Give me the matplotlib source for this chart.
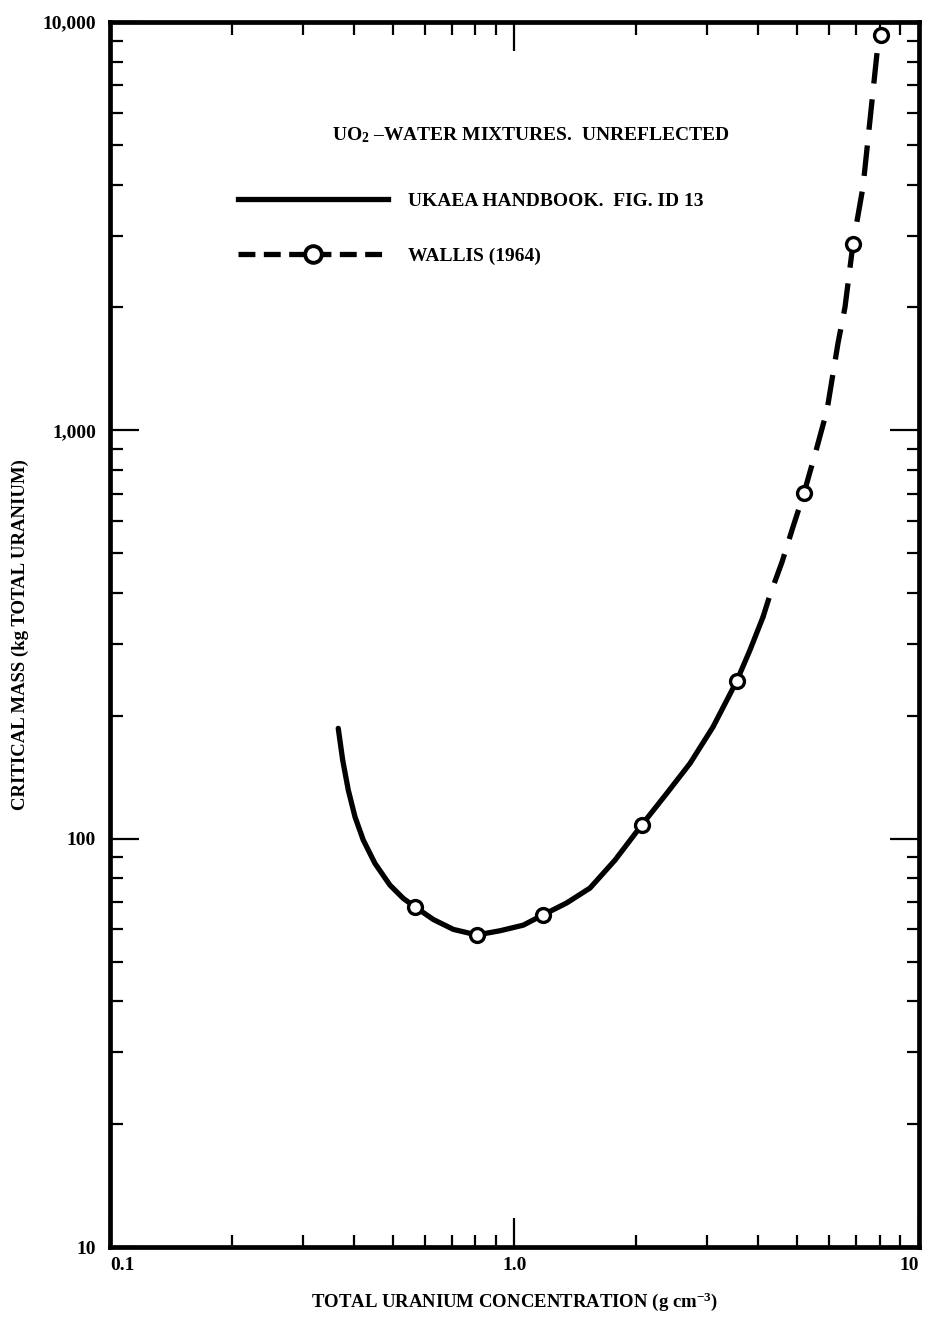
import numpy as np
import matplotlib as mpl
import matplotlib.pyplot as plt
from matplotlib.lines import Line2D
from matplotlib.ticker import FixedLocator, FixedFormatter, LogLocator, NullFormatter

mpl.rcParams['font.family'] = ['Liberation Serif', 'DejaVu Serif']
mpl.rcParams['font.weight'] = 'bold'
mpl.rcParams['axes.labelweight'] = 'bold'
mpl.rcParams['mathtext.fontset'] = 'custom'
mpl.rcParams['mathtext.rm'] = 'Liberation Serif:bold'
mpl.rcParams['mathtext.it'] = 'Liberation Serif:bold'
mpl.rcParams['mathtext.bf'] = 'Liberation Serif:bold'

# UKAEA handbook curve (solid)
ukaea_conc = [0.3667, 0.3761, 0.3883, 0.4034, 0.4229, 0.4519, 0.4922, 0.5311,
              0.5675, 0.630, 0.7062, 0.8065, 0.921, 1.051, 1.174, 1.346, 1.537,
              1.772, 2.063, 2.379, 2.716, 3.095, 3.543, 3.821, 4.115]
ukaea_mass = [186.3, 155.8, 131.5, 113.1, 99.2, 87.0, 76.96, 71.4,
              68.1, 63.4, 59.96, 58.1, 59.5, 61.4, 65.0, 69.6, 75.7,
              88.6, 108.0, 129.1, 152.9, 187.7, 243.2, 289.7, 349]

# Wallis (1964) curve, dashed continuation
wallis_conc = [4.115, 4.281, 4.585, 4.88, 5.196, 5.596, 5.924, 6.307, 6.563,
               6.867, 7.27, 7.566, 7.874, 8.05]
wallis_mass = [349, 395, 475.8, 579.8, 702, 910, 1121, 1636, 2004,
               2859, 3944, 5754, 8400, 9293]

# Wallis (1964) data points
pts_conc = [0.5675, 0.8065, 1.174, 2.063, 3.543, 5.196, 6.867, 8.05]
pts_mass = [68.1, 58.1, 65.0, 108.0, 243.2, 702, 2859, 9293]

x_ticks = [0.1, 1.0, 10]
x_labels = ['0.1', '1.0', '10']
y_ticks = [10, 100, 1000, 10000]
y_labels = ['10', '100', '1,000', '10,000']

fig = plt.figure(figsize=(9.28, 13.29), dpi=100)
ax = fig.add_axes([0.1185, 0.0617, 0.8718, 0.9217])
ax.set_xscale('log')
ax.set_yscale('log')
ax.set_xlim(0.1, 10)
ax.set_ylim(10, 10000)

lw = 3.8
ax.plot(ukaea_conc, ukaea_mass, color='black', linewidth=lw,
        solid_capstyle='round', solid_joinstyle='round')
ax.plot(wallis_conc, wallis_mass, color='black', linewidth=lw,
        linestyle=(2, (5.8, 3.0)), dash_joinstyle='round')
ax.plot(pts_conc, pts_mass, linestyle='none', marker='o', markersize=10,
        markerfacecolor='white', markeredgecolor='black', markeredgewidth=2.4,
        clip_on=False, zorder=5)

for s in ax.spines.values():
    s.set_linewidth(3.4)

ax.xaxis.set_major_locator(FixedLocator(x_ticks))
ax.xaxis.set_major_formatter(FixedFormatter(x_labels))
ax.yaxis.set_major_locator(FixedLocator(y_ticks))
ax.yaxis.set_major_formatter(FixedFormatter(y_labels))
ax.xaxis.set_minor_locator(LogLocator(base=10, subs=np.arange(2, 10)))
ax.yaxis.set_minor_locator(LogLocator(base=10, subs=np.arange(2, 10)))
ax.xaxis.set_minor_formatter(NullFormatter())
ax.yaxis.set_minor_formatter(NullFormatter())

ax.tick_params(which='both', direction='in', top=True, right=True, width=1.6)
ax.tick_params(which='major', length=21, labelsize=14, pad=7)
ax.tick_params(which='minor', length=9)
ax.tick_params(axis='y', which='major', pad=10)

# end labels sit inside the axis span, as in the original
xt = ax.xaxis.get_major_ticks()
xt[0].label1.set_horizontalalignment('left')
xt[-1].label1.set_horizontalalignment('right')

ax.set_xlabel('TOTAL URANIUM CONCENTRATION (g cm$^{-3}$)', fontsize=13.5, labelpad=12)
ax.set_ylabel('CRITICAL MASS (kg TOTAL URANIUM)', fontsize=13.5, labelpad=10)

ax.text(0.52, 0.908, 'UO$_2$ \u2013WATER MIXTURES.  UNREFLECTED', transform=ax.transAxes,
        ha='center', va='center', fontsize=14)

handles = [
    Line2D([], [], color='black', linewidth=lw),
    Line2D([], [], color='black', linewidth=lw, linestyle=(0, (3.2, 1.6)),
           marker='o', markersize=12, markerfacecolor='white',
           markeredgecolor='black', markeredgewidth=2.8),
]
ax.legend(handles, ['UKAEA HANDBOOK.  FIG. ID 13', 'WALLIS (1964)'],
          loc='upper left', bbox_to_anchor=(0.158, 0.861), frameon=False,
          borderpad=0, borderaxespad=0, numpoints=1, handlelength=7.7,
          handletextpad=1.05, labelspacing=1.9, prop={'size': 14, 'weight': 'bold'})

plt.savefig('out.png', dpi=100)
